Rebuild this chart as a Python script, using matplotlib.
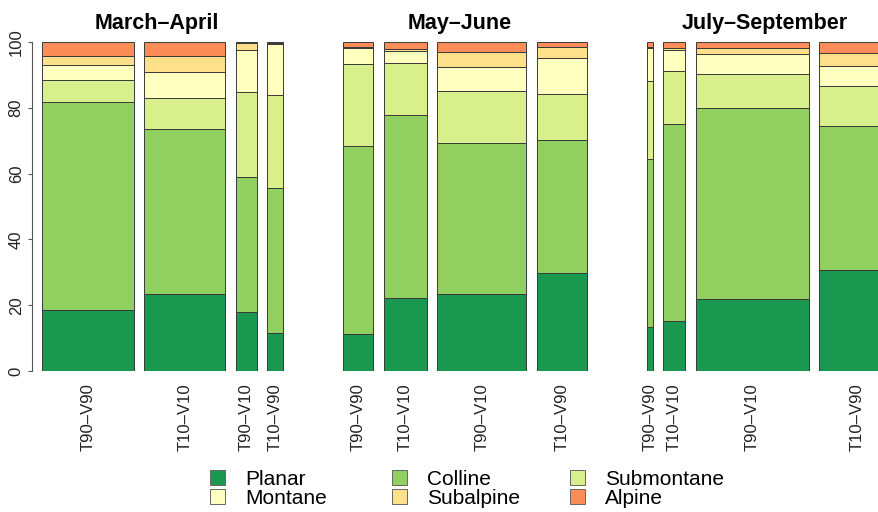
import numpy as np
import matplotlib
matplotlib.use('Agg')
import matplotlib.pyplot as plt
from matplotlib.patches import Patch
import matplotlib.transforms as mtransforms

plt.rcParams['font.family'] = ['Liberation Sans', 'DejaVu Sans']

seasons = ['March\u2013April', 'May\u2013June', 'July\u2013September']
combos = [['T90\u2013V90', 'T10\u2013V10', 'T90\u2013V10', 'T10\u2013V90'],
          ['T90\u2013V90', 'T10\u2013V10', 'T90\u2013V10', 'T10\u2013V90'],
          ['T90\u2013V90', 'T10\u2013V10', 'T90\u2013V10', 'T10\u2013V90']]
# relative bar widths (number of records)
widths = [[92, 81, 21, 16], [30, 43, 89, 50], [6, 22, 113, 75]]

belts = ['Planar', 'Colline', 'Submontane', 'Montane', 'Subalpine', 'Alpine']
planar     = [18.4, 23.5, 17.9, 11.6, 11.2, 22.2, 23.3, 29.9, 13.3, 15.3, 21.9, 30.8]
colline    = [63.3, 50.1, 41.1, 43.9, 57.3, 55.5, 46.0, 40.4, 51.2, 59.8, 57.9, 43.7]
submontane = [6.8, 9.3, 25.9, 28.5, 24.8, 16.0, 15.7, 14.0, 23.5, 16.2, 10.6, 12.1]
montane    = [4.6, 8.1, 12.7, 15.4, 4.8, 3.6, 7.5, 10.8, 10.3, 6.2, 5.9, 6.2]
subalpine  = [2.7, 4.8, 2.1, 0.3, 0.4, 0.7, 4.4, 3.5, 0.3, 0.8, 2.0, 3.8]
alpine     = [4.2, 4.2, 0.3, 0.3, 1.5, 2.0, 3.1, 1.4, 1.4, 1.7, 1.7, 3.4]

colors = ['#1a9850', '#91cf60', '#d9ef8b', '#ffffbf', '#fee08b', '#fc8d59']

W, H = 879, 512
fig = plt.figure(figsize=(W / 100, H / 100), dpi=100)
ax = fig.add_axes([32 / W, (H - 371) / H, (W - 32) / W, (371 - 42) / H])

gap_in, gap_out, start = 10.5, 60, 10
lefts, wlist, labels, centers = [], [], [], []
x = start
for g in range(len(seasons)):
    g0 = x
    for w, lab in zip(widths[g], combos[g]):
        lefts.append(x)
        wlist.append(w)
        labels.append(lab)
        x += w + gap_in
    centers.append((g0 + x - gap_in) / 2)
    x += gap_out - gap_in

lefts = np.array(lefts)
wlist = np.array(wlist)
data = np.array([planar, colline, submontane, montane, subalpine, alpine])
bottom = np.zeros(len(lefts))
for vals, c in zip(data, colors):
    ax.bar(lefts, vals, width=wlist, bottom=bottom, align='edge', color=c,
           edgecolor='#3a3a3a', linewidth=0.7)
    bottom += vals

ax.set_xlim(0, W - 32)
ax.set_ylim(0, 100)
for s in ['top', 'right', 'bottom']:
    ax.spines[s].set_visible(False)
ax.spines['left'].set_color('#555555')
ax.spines['left'].set_linewidth(0.8)
ax.set_yticks([0, 20, 40, 60, 80, 100])
ax.tick_params(axis='y', labelrotation=90, length=3, width=0.8, color='#555555',
               pad=3, labelsize=12, labelcolor='#222222')
for t in ax.get_yticklabels():
    t.set_va('center')
ax.set_xticks(lefts + wlist / 2)
ax.set_xticklabels(labels, rotation=90, fontsize=12, color='#222222')
ax.tick_params(axis='x', length=0, pad=9)

trans = mtransforms.blended_transform_factory(ax.transData, fig.transFigure)
for cx, s in zip(centers, seasons):
    ax.text(cx - 6, 1 - 24 / H, s, transform=trans, ha='center', va='center',
            fontsize=15.5, fontweight='bold')

# legend: 3 columns, 2 rows
col_x = [210, 392, 570]
for j in range(3):
    hs = [Patch(facecolor=colors[j], edgecolor='#666666', linewidth=0.7),
          Patch(facecolor=colors[j + 3], edgecolor='#666666', linewidth=0.7)]
    fig.legend(hs, [belts[j], belts[j + 3]], loc='upper left',
               bbox_to_anchor=(col_x[j] / W, 1 - 470 / H), frameon=False,
               fontsize=15, handlelength=0.72, handleheight=0.72,
               handletextpad=0.95, labelspacing=0.0, borderpad=0, borderaxespad=0)

plt.savefig('out.png', dpi=100)
